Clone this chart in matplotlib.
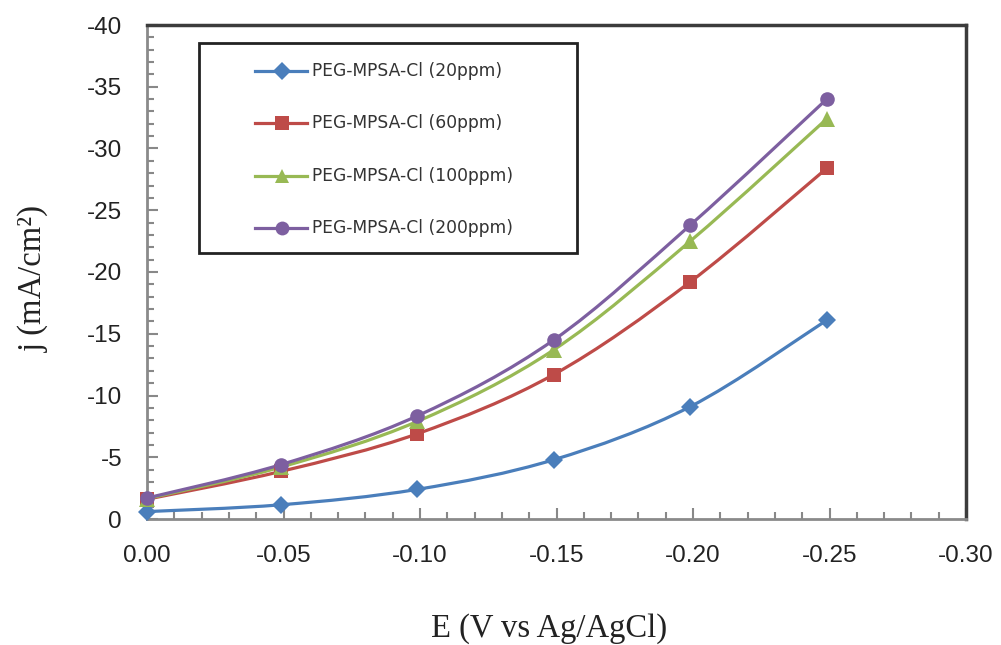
import matplotlib
matplotlib.use("Agg")
import matplotlib.pyplot as plt
import numpy as np
from matplotlib.path import Path
from matplotlib.patches import PathPatch, Rectangle
from matplotlib.lines import Line2D
from matplotlib.ticker import FixedLocator, FixedFormatter, MultipleLocator

# Potential (V vs Ag/AgCl)
potential = [0.0, -0.049, -0.099, -0.149, -0.199, -0.249]

# Current density (mA/cm^2) for each additive concentration
j_20ppm = [-0.6, -1.15, -2.4, -4.8, -9.1, -16.1]
j_60ppm = [-1.6, -3.85, -6.9, -11.7, -19.2, -28.4]
j_100ppm = [-1.65, -4.2, -7.9, -13.7, -22.5, -32.4]
j_200ppm = [-1.7, -4.4, -8.35, -14.5, -23.8, -34.0]

series_labels = ["PEG-MPSA-Cl (20ppm)", "PEG-MPSA-Cl (60ppm)",
                 "PEG-MPSA-Cl (100ppm)", "PEG-MPSA-Cl (200ppm)"]
series_colors = ["#4A7EBB", "#BE4B48", "#98B954", "#7D5FA0"]
series_markers = ["D", "s", "^", "o"]
marker_sizes = [9.5, 10.5, 11, 10.5]

x_ticks = [0.0, -0.05, -0.10, -0.15, -0.20, -0.25, -0.30]
x_tick_labels = ["0.00", "-0.05", "-0.10", "-0.15", "-0.20", "-0.25", "-0.30"]
y_ticks = [0, -5, -10, -15, -20, -25, -30, -35, -40]
y_tick_labels = ["0", "-5", "-10", "-15", "-20", "-25", "-30", "-35", "-40"]


def smooth_path(xs, ys):
    """Cubic Bezier path through the points (Catmull-Rom style smoothing)."""
    pts = np.column_stack([xs, ys]).astype(float)
    n = len(pts)
    verts = [pts[0]]
    codes = [Path.MOVETO]
    for i in range(n - 1):
        p0 = pts[i - 1] if i > 0 else pts[i]
        p1 = pts[i]
        p2 = pts[i + 1]
        p3 = pts[i + 2] if i + 2 < n else pts[i + 1]
        c1 = p1 + (p2 - p0) / 6.0
        c2 = p2 - (p3 - p1) / 6.0
        verts += [c1, c2, p2]
        codes += [Path.CURVE4] * 3
    return Path(verts, codes)


W, H = 1001, 645
fig = plt.figure(figsize=(W / 100, H / 100), dpi=100)
ax = fig.add_axes([147 / W, 1 - 519 / H, (966 - 147) / W, (519 - 25) / H])

LW = 2.3
all_series = [j_20ppm, j_60ppm, j_100ppm, j_200ppm]
for vals, col, mk, ms in zip(all_series, series_colors, series_markers, marker_sizes):
    ax.add_patch(PathPatch(smooth_path(potential, vals), fill=False,
                           edgecolor=col, lw=LW, zorder=3, capstyle="round"))
    ax.plot(potential, vals, linestyle="none", marker=mk, ms=ms, color=col,
            markeredgecolor=col, markeredgewidth=0, zorder=4, clip_on=False)

ax.set_xlim(0, -0.30)
ax.set_ylim(0, -40)

ax.xaxis.set_major_locator(FixedLocator(x_ticks))
ax.xaxis.set_major_formatter(FixedFormatter(x_tick_labels))
ax.xaxis.set_minor_locator(MultipleLocator(0.01))
ax.yaxis.set_major_locator(FixedLocator(y_ticks))
ax.yaxis.set_major_formatter(FixedFormatter(y_tick_labels))
ax.yaxis.set_minor_locator(MultipleLocator(1))

for lbl in ax.get_xticklabels() + ax.get_yticklabels():
    lbl.set_fontfamily("Liberation Sans")
    lbl.set_fontsize(17.5)
    lbl.set_color("#222222")

ax.tick_params(axis="both", which="major", direction="in", length=8,
               width=1.5, color="#888888")
ax.tick_params(axis="both", which="minor", direction="in", length=5,
               width=1.5, color="#888888")
ax.tick_params(axis="x", which="major", pad=19)
ax.tick_params(axis="y", which="major", pad=18)

for side in ("left", "bottom"):
    ax.spines[side].set_color("#8a8a8a")
    ax.spines[side].set_linewidth(2.0)
for side in ("top", "right"):
    ax.spines[side].set_color("#3c3c3c")
    ax.spines[side].set_linewidth(2.5)

ax.set_xlabel("E (V vs Ag/AgCl)", fontfamily="Liberation Serif", fontsize=23.5,
              color="#222222", ha="center", va="center")
ax.xaxis.set_label_coords(549 / W, 1 - 629 / H, transform=fig.transFigure)
ax.set_ylabel("j (mA/cm²)", fontfamily="Liberation Serif", fontsize=23.5,
              color="#222222", ha="center", va="center")
ax.yaxis.set_label_coords(33 / W, 1 - 279 / H, transform=fig.transFigure)

# Legend frame
fig.add_artist(Rectangle((199 / W, 1 - 253 / H), (577 - 199) / W, (253 - 43) / H,
                         transform=fig.transFigure, fill=False,
                         edgecolor="#222222", lw=2.0, zorder=5))

# Legend entries
row_y = [70.5, 123, 176, 228.5]
for y, lab, col, mk, ms in zip(row_y, series_labels, series_colors,
                               series_markers, marker_sizes):
    fy = 1 - y / H
    fig.add_artist(Line2D([255 / W, 307 / W], [fy, fy], transform=fig.transFigure,
                          color=col, lw=LW, zorder=6))
    fig.add_artist(Line2D([282 / W], [fy], transform=fig.transFigure,
                          color=col, marker=mk, ms=ms * 0.95,
                          markeredgewidth=0, zorder=7))
    fig.text(312 / W, fy, lab, fontfamily="DejaVu Sans", fontsize=12.3,
             color="#333333", ha="left", va="center", zorder=7)

fig.savefig("out.png", dpi=100, facecolor="white")
